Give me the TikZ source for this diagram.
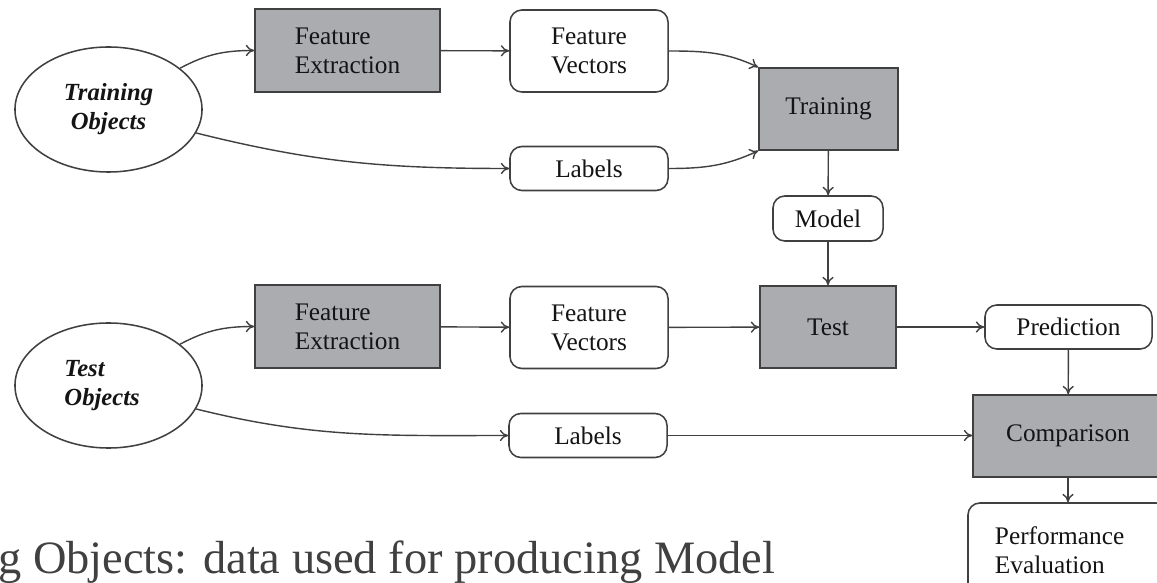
\documentclass[tikz,border=0pt]{standalone}
\usepackage{fontspec}
\setmainfont{Liberation Serif}
\usetikzlibrary{arrows.meta,shapes.geometric}
\definecolor{boxfill}{RGB}{170,172,176}
\definecolor{linec}{RGB}{64,64,64}
\definecolor{txtc}{RGB}{20,20,20}
\definecolor{capc}{RGB}{64,64,64}
\tikzset{
  base/.style={draw=linec, line width=1.1pt, text=txtc, font=\fontsize{18}{20.6}\selectfont, inner sep=0pt},
  graybox/.style={base, fill=boxfill, rectangle},
  roundbox/.style={base, fill=white, rectangle, rounded corners=8.5pt},
  objell/.style={base, fill=white, ellipse, font=\fontsize{17.5}{20.6}\selectfont\bfseries\itshape},
  conn/.style={draw=linec, line width=1pt, -{To[length=6pt,width=8pt]}},
}
\begin{document}
\begin{tikzpicture}[x=0.025cm, y=-0.025cm]
\useasboundingbox (0,0) rectangle (1157,583);
\begin{scope}
\clip (0,0) rectangle (1157,583);
% ellipses
\node[objell, minimum width=4.675cm, minimum height=3.125cm, align=center] (TO) at (108.5,109.5) {Training\\Objects};
\node[objell, minimum width=4.675cm, minimum height=3.125cm, text width=2.2cm, align=left] (TeO) at (108.5,385.5) {Test\\Objects};
% top row
\node[graybox, minimum width=4.625cm, minimum height=2.075cm, align=left] (FE1) at (347.5,50.5) {Feature\\Extraction};
\node[roundbox, minimum width=3.95cm, minimum height=2.05cm, align=center] (FV1) at (589,51) {Feature\\Vectors};
\node[roundbox, minimum width=3.95cm, minimum height=1.1cm] (L1) at (589,168.5) {Labels};
\node[graybox, minimum width=3.475cm, minimum height=2.05cm] (TR) at (828.5,109) {Training};
\node[roundbox, minimum width=2.75cm, minimum height=1.125cm] (MO) at (828,218.5) {Model};
% bottom row
\node[graybox, minimum width=4.625cm, minimum height=2.075cm, align=left] (FE2) at (347.5,326.5) {Feature\\Extraction};
\node[roundbox, minimum width=3.95cm, minimum height=2.05cm, align=center] (FV2) at (589,327.5) {Feature\\Vectors};
\node[roundbox, minimum width=3.95cm, minimum height=1.1cm] (L2) at (588,435.5) {Labels};
\node[graybox, minimum width=3.4cm, minimum height=2.05cm] (TE) at (828,327) {Test};
\node[roundbox, minimum width=4.175cm, minimum height=1.1cm] (PR) at (1068.5,327) {Prediction};
\node[graybox, minimum width=4.75cm, minimum height=2.05cm] (CO) at (1068,436) {Comparison};
\node[roundbox, minimum width=5cm, minimum height=2.35cm, text width=3.65cm, align=left] (PE) at (1068,550) {Performance\\Evaluation};
% connectors
\draw[conn] (TO.30) to[out=28,in=180] (FE1.west);
\draw[conn] (TO.-15) to[out=-14,in=180] (L1.west);
\draw[conn] (FE1) -- (FV1);
\draw[conn] (FV1.east) to[out=0,in=155] (TR.north west);
\draw[conn] (L1.east) to[out=0,in=205] (TR.south west);
\draw[conn] (TR) -- (MO);
\draw[conn] (MO) -- (TE);
\draw[conn] (TeO.30) to[out=28,in=180] (FE2.west);
\draw[conn] (TeO.-15) to[out=-14,in=180] (L2.west);
\draw[conn] (FE2) -- (FV2);
\draw[conn] (FV2) -- (TE);
\draw[conn] (TE) -- (PR);
\draw[conn] (PR) -- (CO);
\draw[conn] (L2) -- (CO.west |- L2);
\draw[conn] (CO) -- (PE);
% caption
\node[anchor=base west, inner sep=0pt, text=capc, font=\fontsize{33}{36}\selectfont] (cap) at (-2,573) {g Objects: data used for producing Model};
\end{scope}
\end{tikzpicture}
\end{document}
